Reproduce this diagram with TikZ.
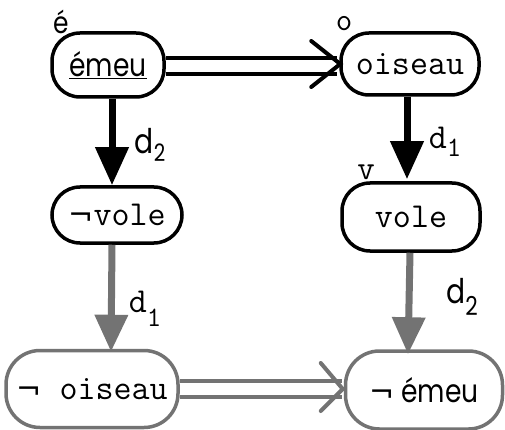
\documentclass[tikz,border=0pt]{standalone}
\usepackage{fontspec}
\setmainfont{Poppins}
\newfontfamily\geofont[FakeStretch=0.83]{Poppins}
\newfontfamily\notfont{DejaVu Sans}
\newcommand{\notsym}{{\notfont\fontsize{30}{30}\selectfont ¬}}
\usetikzlibrary{arrows.meta}
\begin{document}
\begin{tikzpicture}[x=1pt,y=-1pt,
  capsule/.style={draw, line width=3.5pt, rounded corners=28pt, inner sep=0pt},
  gcapsule/.style={capsule, draw=black!55, rounded corners=34pt},
  mono/.style={font=\fontsize{35}{35}\selectfont\ttfamily},
  geo/.style={font=\fontsize{32}{32}\selectfont\geofont},
  lbl/.style={inner sep=0pt},
  blk/.style={line width=7pt, -{Triangle[width=32pt,length=38pt]}},
  gry/.style={line width=7pt, draw=black!55, -{Triangle[width=32pt,length=37pt,fill=black!55]}},
  dbl/.style={line width=4pt},
  gdbl/.style={line width=4pt, draw=black!55}
]
\useasboundingbox (0,0) rectangle (505,430);

\node[capsule, geo, minimum width=112pt, minimum height=64pt] (e) at (108,65) {\underline{émeu}};
\node[capsule, mono, minimum width=138pt, minimum height=62pt] (o) at (410,64) {oiseau};
\node[capsule, mono, minimum width=130pt, minimum height=56pt] (nv) at (117,215) {\notsym vole};
\node[capsule, mono, minimum width=138pt, minimum height=68pt] (v) at (411,217) {vole};
\node[gcapsule, mono, minimum width=172pt, minimum height=77pt] (no) at (92,389) {\notsym\ oiseau};
\node[gcapsule, geo, minimum width=157pt, minimum height=78pt] (ne) at (424,390) {\notsym\ émeu};

% corner labels
\node[lbl, font=\fontsize{30}{30}\selectfont\geofont] (le) at (61,22) {é};
\node[lbl, font=\fontsize{32}{32}\selectfont\ttfamily] (lo) at (344,24) {o};
\node[lbl, font=\fontsize{34}{34}\selectfont\ttfamily] (lv) at (366,172) {v};

% vertical arrows
\draw[blk] ([xshift=4pt]e.south) -- ([xshift=-5pt]nv.north);
\draw[blk] ([xshift=-3pt]o.south) -- ([xshift=-4pt,yshift=2pt]v.north);
\draw[gry] ([xshift=-5pt]nv.south) -- ([xshift=19pt,yshift=-3pt]no.north);
\draw[gry] ([xshift=-1pt]v.south) -- ([xshift=-16pt,yshift=-5pt]ne.north);

% arrow labels
\node[lbl, font=\fontsize{34}{34}\selectfont\geofont] (d2a) at (150,145) {d\raisebox{-0.25em}{\fontsize{24}{24}\selectfont 2}};
\node[lbl, font=\fontsize{35}{35}\selectfont\ttfamily] (d1a) at (445,142) {d\raisebox{-0.22em}{\fontsize{28}{28}\selectfont 1}};
\node[lbl, font=\fontsize{35}{35}\selectfont\ttfamily] (d1b) at (145,309) {d\raisebox{-0.4em}{\fontsize{28}{28}\selectfont 1}};
\node[lbl, font=\fontsize{34}{34}\selectfont\geofont] (d2b) at (462,297) {d\raisebox{-0.35em}{\fontsize{26}{26}\selectfont 2}};

% top double arrow
\draw[dbl] ([yshift=7pt]e.east) -- ([yshift=7pt,xshift=-2pt]e.east -| o.west);
\draw[dbl] ([yshift=-9pt]e.east) -- ([yshift=-9pt,xshift=-2pt]e.east -| o.west);
\draw[dbl, line cap=round] ([xshift=-28pt,yshift=23pt]o.west) -- ([xshift=1pt]o.west) -- ([xshift=-28pt,yshift=-23pt]o.west);

% bottom double arrow
\draw[gdbl] ([yshift=8pt]no.east) -- ([yshift=8pt,xshift=-2pt]no.east -| ne.west);
\draw[gdbl] ([yshift=-8pt]no.east) -- ([yshift=-8pt,xshift=-2pt]no.east -| ne.west);
\draw[gdbl, line cap=round] ([xshift=-23pt,yshift=27pt]ne.west) -- ([xshift=-1pt,yshift=1pt]ne.west) -- ([xshift=-23pt,yshift=-21pt]ne.west);
\end{tikzpicture}
\end{document}
